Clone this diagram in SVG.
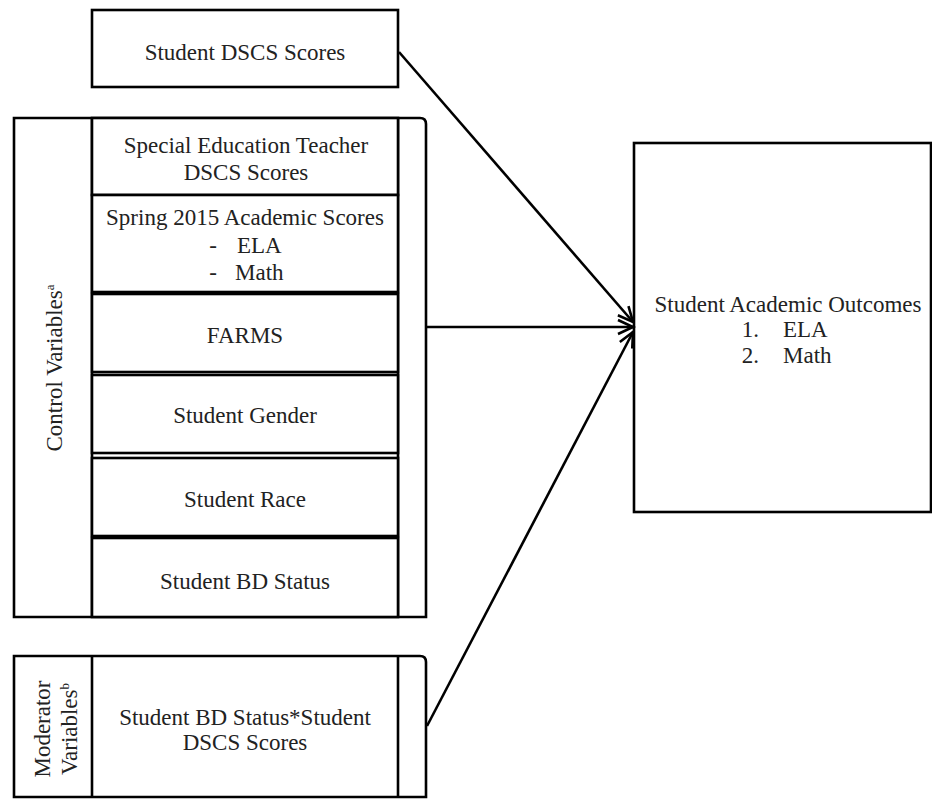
<svg xmlns="http://www.w3.org/2000/svg" width="932" height="800" viewBox="0 0 932 800">
<style>
.box{fill:#fff;stroke:#000;stroke-width:2.6}
.t{font-family:"Liberation Serif","Times New Roman",serif;font-size:23px;fill:#222;text-anchor:middle}
.s{text-anchor:start}
.e{text-anchor:end}
.sup{font-size:13px}
.c{fill:none;stroke:#000;stroke-width:2.6}
</style>
<defs>
<marker id="ah" markerUnits="userSpaceOnUse" markerWidth="30" markerHeight="30" refX="0" refY="0" viewBox="-20 -15 30 30" orient="auto">
<path d="M -15 -7 L 0 0 L -15 7" fill="none" stroke="#000" stroke-width="2.6"/>
</marker>
</defs>
<rect width="932" height="800" fill="#fff"/>

<g id="control-group">
<path class="box" d="M14 118 H420 Q426 118 426 124 V617 H14 Z"/>
<line class="c" x1="92" y1="118" x2="92" y2="617"/>
<line class="c" x1="398" y1="118" x2="398" y2="617"/>
<text class="t" transform="rotate(-90 62 368)" x="62" y="368">Control Variables<tspan class="sup" dy="-8">a</tspan></text>
</g>

<g id="moderator-group">
<path class="box" d="M14 656 H420 Q426 656 426 662 V797 H14 Z"/>
<line class="c" x1="92" y1="656" x2="92" y2="797"/>
<line class="c" x1="398" y1="656" x2="398" y2="797"/>
<text class="t" transform="rotate(-90 50 729)" x="50" y="729">Moderator</text>
<text class="t" transform="rotate(-90 77 729)" x="77" y="729">Variables<tspan class="sup" dy="-8">b</tspan></text>
</g>

<g id="student-dscs">
<rect class="box" x="92" y="10" width="306" height="77"/>
<text class="t" x="245" y="60">Student DSCS Scores</text>
</g>

<g id="sped-teacher">
<rect class="box" x="92" y="118" width="306" height="77"/>
<text class="t" x="246" y="153">Special Education Teacher</text>
<text class="t" x="246" y="180">DSCS Scores</text>
</g>

<g id="spring-2015">
<rect class="box" x="92" y="195" width="306" height="97"/>
<text class="t" x="245" y="225">Spring 2015 Academic Scores</text>
<text class="t" x="213" y="253">-</text>
<text class="t s" x="237" y="253">ELA</text>
<text class="t" x="213" y="280">-</text>
<text class="t s" x="235" y="280">Math</text>
</g>

<g id="farms">
<rect class="box" x="92" y="294" width="306" height="78"/>
<text class="t" x="245" y="343">FARMS</text>
</g>

<g id="gender">
<rect class="box" x="92" y="375" width="306" height="78"/>
<text class="t" x="245" y="423">Student Gender</text>
</g>

<g id="race">
<rect class="box" x="92" y="458" width="306" height="78"/>
<text class="t" x="245" y="507">Student Race</text>
</g>

<g id="bd-status">
<rect class="box" x="92" y="538" width="306" height="79"/>
<text class="t" x="245" y="589">Student BD Status</text>
</g>

<g id="interaction">
<text class="t" x="245" y="725">Student BD Status*Student</text>
<text class="t" x="245" y="750">DSCS Scores</text>
</g>

<g id="outcomes">
<rect class="box" x="634" y="143" width="297" height="369"/>
<text class="t" x="788" y="312">Student Academic Outcomes</text>
<text class="t e" x="759" y="337">1.</text>
<text class="t s" x="783" y="337">ELA</text>
<text class="t e" x="759" y="363">2.</text>
<text class="t s" x="783" y="363">Math</text>
</g>

<g id="connectors">
<line class="c" x1="399" y1="52" x2="633" y2="322" marker-end="url(#ah)"/>
<line class="c" x1="426" y1="327" x2="633" y2="327" marker-end="url(#ah)"/>
<line class="c" x1="427" y1="726" x2="633" y2="332" marker-end="url(#ah)"/>
</g>
</svg>
